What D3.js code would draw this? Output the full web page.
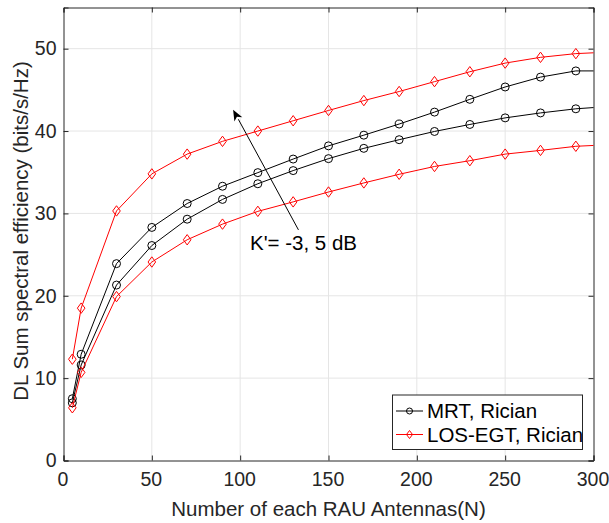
<!DOCTYPE html>
<html>
<head>
<meta charset="utf-8">
<script src="https://cdn.jsdelivr.net/npm/d3@7"></script>
<style>
body { margin:0; background:#fff; }
svg { display:block; font-family: "Liberation Sans", Arial, Helvetica, sans-serif; }
</style>
</head>
<body>
<svg id="chart" width="609" height="523"></svg>
<script>
// ---- data ----
const xVals = [5, 10, 30, 50, 70, 90, 110, 130, 150, 170, 190, 210, 230, 250, 270, 290, 300];
const markerCount = 16; // last point (300) has no marker
const mrtK5   = [7.5, 12.9, 23.9, 28.3, 31.2, 33.3, 34.95, 36.6, 38.2, 39.5, 40.85, 42.3, 43.85, 45.35, 46.55, 47.3, 47.3];
const mrtKm3  = [7.0, 11.6, 21.3, 26.1, 29.3, 31.7, 33.6, 35.2, 36.65, 37.9, 38.95, 39.95, 40.8, 41.6, 42.2, 42.7, 42.85];
const egtK5   = [12.3, 18.5, 30.3, 34.8, 37.2, 38.75, 40.0, 41.25, 42.5, 43.7, 44.8, 46.0, 47.2, 48.25, 48.95, 49.4, 49.5];
const egtKm3  = [6.4, 10.7, 19.9, 24.1, 26.8, 28.7, 30.25, 31.4, 32.6, 33.7, 34.75, 35.7, 36.4, 37.2, 37.65, 38.15, 38.25];
const xTicks = [0, 50, 100, 150, 200, 250, 300];
const yTicks = [0, 10, 20, 30, 40, 50];
const legendLabels = ["MRT, Rician", "LOS-EGT, Rician"];
const annotationText = "K'= -3, 5 dB";
const arrowFrom = [133, 28.0];
const arrowTo = [96, 42.6];
const xLabel = "Number of each RAU Antennas(N)";
const yLabel = "DL Sum spectral efficiency (bits/s/Hz)";

// ---- layout ----
const L = 63.5, R = 593.5, T = 7.5, B = 460.5;
const svg = d3.select("#chart");
const x = d3.scaleLinear().domain([0, 300]).range([L, R]);
const y = d3.scaleLinear().domain([0, 55]).range([B, T]);
const axisColor = "#262626";
const gridColor = "#e5e5e5";
const fs = 20.5;
const tfs = 19.5;

// grid
const grid = svg.append("g");
xTicks.forEach(t => {
  if (t > 0 && t < 300) grid.append("line").attr("x1", x(t)).attr("x2", x(t)).attr("y1", T).attr("y2", B)
    .attr("stroke", gridColor).attr("stroke-width", 1);
});
yTicks.forEach(t => {
  if (t > 0) grid.append("line").attr("x1", L).attr("x2", R).attr("y1", y(t)).attr("y2", y(t))
    .attr("stroke", gridColor).attr("stroke-width", 1);
});

// axes (inward ticks, box)
const tickLen = 5;
const axB = svg.append("g").attr("transform", `translate(0,${B})`)
  .call(d3.axisBottom(x).tickValues(xTicks).tickSize(-tickLen).tickPadding(12));
const axT = svg.append("g").attr("transform", `translate(0,${T})`)
  .call(d3.axisTop(x).tickValues(xTicks).tickSize(-tickLen).tickFormat(""));
const axL = svg.append("g").attr("transform", `translate(${L},0)`)
  .call(d3.axisLeft(y).tickValues(yTicks).tickSize(-tickLen).tickPadding(7));
const axR = svg.append("g").attr("transform", `translate(${R},0)`)
  .call(d3.axisRight(y).tickValues(yTicks).tickSize(-tickLen).tickFormat(""));
[axB, axT, axL, axR].forEach(a => {
  a.select(".domain").attr("stroke", axisColor).attr("stroke-width", 1);
  a.selectAll(".tick line").attr("stroke", axisColor);
  a.selectAll(".tick text").attr("fill", axisColor).style("font-size", tfs + "px")
   .style("font-family", '"Liberation Sans", Arial, sans-serif');
});
axB.selectAll(".tick text").attr("dy", "0.71em").attr("dx", -1);

// series
const series = [
  { vals: mrtK5, color: "#000", marker: "circle" },
  { vals: mrtKm3, color: "#000", marker: "circle" },
  { vals: egtK5, color: "#ff0000", marker: "diamond" },
  { vals: egtKm3, color: "#ff0000", marker: "diamond" }
];
const line = d3.line().x((d, i) => x(xVals[i])).y(d => y(d));
const diamondPath = (cx, cy) => `M${cx},${cy-5.2}L${cx+3.8},${cy}L${cx},${cy+5.2}L${cx-3.8},${cy}Z`;

const plot = svg.append("g");
series.forEach(s => {
  plot.append("path").datum(s.vals).attr("d", line).attr("fill", "none")
    .attr("stroke", s.color).attr("stroke-width", 1);
  s.vals.slice(0, markerCount).forEach((v, i) => {
    const cx = x(xVals[i]), cy = y(v);
    if (s.marker === "circle") {
      plot.append("circle").attr("cx", cx).attr("cy", cy).attr("r", 4)
        .attr("fill", "none").attr("stroke", s.color).attr("stroke-width", 1);
    } else {
      plot.append("path").attr("d", diamondPath(cx, cy))
        .attr("fill", "none").attr("stroke", s.color).attr("stroke-width", 1);
    }
  });
});

// arrow annotation
const ax1 = x(arrowFrom[0]), ay1 = y(arrowFrom[1]), ax2 = x(arrowTo[0]), ay2 = y(arrowTo[1]);
const ang = Math.atan2(ay2 - ay1, ax2 - ax1);
const hl = 11, hw = 4.5;
const bx = ax2 - hl * Math.cos(ang), by = ay2 - hl * Math.sin(ang);
svg.append("line").attr("x1", ax1).attr("y1", ay1).attr("x2", bx).attr("y2", by)
  .attr("stroke", "#000").attr("stroke-width", 1);
svg.append("path")
  .attr("d", `M${ax2},${ay2}L${bx + hw*Math.sin(ang)},${by - hw*Math.cos(ang)}L${bx + 3*Math.cos(ang)},${by + 3*Math.sin(ang)}L${bx - hw*Math.sin(ang)},${by + hw*Math.cos(ang)}Z`)
  .attr("fill", "#000");
svg.append("text").attr("x", 250).attr("y", 250).text(annotationText)
  .style("font-size", fs + "px").attr("fill", "#000");

// legend
const lg = svg.append("g");
lg.append("rect").attr("x", 392.5).attr("y", 395).attr("width", 190).attr("height", 54.5)
  .attr("fill", "#fff").attr("stroke", "#262626").attr("stroke-width", 1);
const legRows = [{ y: 411, color: "#000", marker: "circle" }, { y: 434.5, color: "#ff0000", marker: "diamond" }];
legRows.forEach((r, i) => {
  lg.append("line").attr("x1", 396).attr("x2", 423).attr("y1", r.y).attr("y2", r.y)
    .attr("stroke", r.color).attr("stroke-width", 1);
  if (r.marker === "circle") lg.append("circle").attr("cx", 409.5).attr("cy", r.y).attr("r", 3)
    .attr("fill", "none").attr("stroke", r.color);
  else lg.append("path").attr("d", `M409.5,${r.y-4}L412.5,${r.y}L409.5,${r.y+4}L406.5,${r.y}Z`)
    .attr("fill", "none").attr("stroke", r.color);
  lg.append("text").attr("x", 427).attr("y", r.y).attr("dy", "0.36em").text(legendLabels[i])
    .style("font-size", fs + "px").attr("fill", "#000");
});

// axis labels
svg.append("text").attr("x", (L + R) / 2).attr("y", 516).attr("text-anchor", "middle")
  .text(xLabel).style("font-size", fs + "px").attr("fill", axisColor);
svg.append("text").attr("transform", `translate(28,231) rotate(-90)`)
  .attr("text-anchor", "middle").text(yLabel).style("font-size", fs + "px").attr("fill", axisColor);
</script>
</body>
</html>
